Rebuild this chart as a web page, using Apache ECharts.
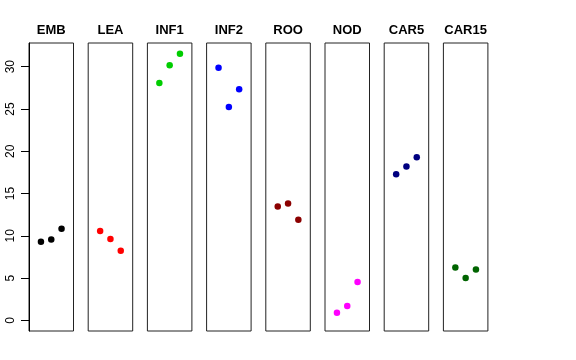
<!DOCTYPE html>
<html>
<head>
<meta charset="utf-8">
<script src="https://cdn.jsdelivr.net/npm/echarts@6/dist/echarts.min.js"></script>
<style>html,body{margin:0;padding:0;background:#fff;}#c{width:576px;height:360px;}</style>
</head>
<body>
<div id="c"></div>
<script>
var categories = ['EMB','LEA','INF1','INF2','ROO','NOD','CAR5','CAR15'];
var colors = ['#000000','#FF0000','#00CD00','#0000FF','#8B0000','#FF00FF','#000080','#006400'];
var xPositions = [1, 2, 3];
var valEMB = [9.29, 9.57, 10.83];
var valLEA = [10.56, 9.61, 8.23];
var valINF1 = [28.07, 30.16, 31.54];
var valINF2 = [29.88, 25.24, 27.33];
var valROO = [13.47, 13.82, 11.89];
var valNOD = [0.91, 1.70, 4.53];
var valCAR5 = [17.29, 18.19, 19.30];
var valCAR15 = [6.26, 5.01, 6.02];
var yTicks = [0, 5, 10, 15, 20, 25, 30];
var allValues = [valEMB, valLEA, valINF1, valINF2, valROO, valNOD, valCAR5, valCAR15];

var chart = echarts.init(document.getElementById('c'), null, {renderer: 'canvas'});
var grids = [], xAxes = [], yAxes = [], series = [];
var ymin = -1.26, ymax = 32.8;
for (var i = 0; i < categories.length; i++) {
  grids.push({left: 29 + i * 59.2, top: 43, width: 44.5, height: 288,
    show: true, borderColor: '#222', borderWidth: 1, backgroundColor: 'transparent'});
  xAxes.push({type: 'value', gridIndex: i, min: -0.16, max: 4.16, position: 'top',
    name: categories[i], nameLocation: 'middle', nameGap: 6,
    nameTextStyle: {fontFamily: 'Liberation Sans', fontWeight: 'bold', fontSize: 13, color: '#000'},
    axisLine: {show: false}, axisTick: {show: false}, axisLabel: {show: false}, splitLine: {show: false}});
  var first = i === 0;
  yAxes.push({type: 'value', gridIndex: i, min: ymin, max: ymax, show: first,
    axisLine: {show: first, onZero: false, lineStyle: {color: '#000', width: 1}},
    axisTick: {show: first, length: 8, customValues: yTicks, lineStyle: {color: '#000'}},
    axisLabel: {show: first, customValues: yTicks, rotate: 90, margin: 12,
      fontFamily: 'Liberation Sans', fontSize: 12, color: '#000'},
    splitLine: {show: false}});
  series.push({type: 'scatter', xAxisIndex: i, yAxisIndex: i, symbol: 'circle', symbolSize: 6.5,
    itemStyle: {color: colors[i], opacity: 1}, silent: true,
    data: xPositions.map(function (x, k) { return [x, allValues[i][k]]; })});
}
chart.setOption({animation: false, grid: grids, xAxis: xAxes, yAxis: yAxes, series: series});
</script>
</body>
</html>
